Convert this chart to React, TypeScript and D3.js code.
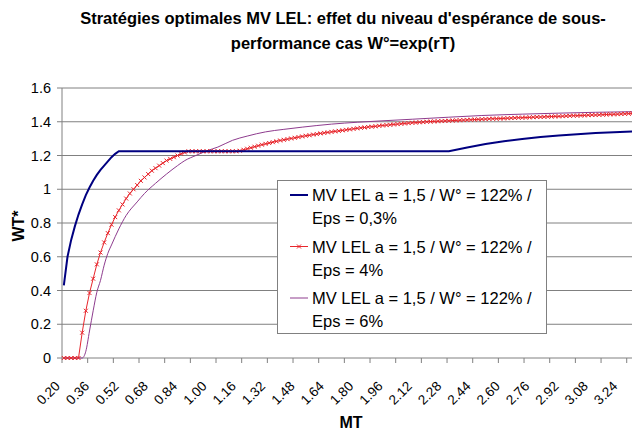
import React from "react";
import * as d3 from "d3";

// x categories: MT from 0.20 by 0.02
const mtCats = d3.range(157).map((i) => +(0.2 + 0.02 * i).toFixed(2));
const tickLabels = ["0.20", "0.36", "0.52", "0.68", "0.84", "1.00", "1.16", "1.32", "1.48", "1.64", "1.80", "1.96", "2.12", "2.28", "2.44", "2.60", "2.76", "2.92", "3.08", "3.24"];
const yTicks = [0, 0.2, 0.4, 0.6, 0.8, 1, 1.2, 1.4, 1.6];

// Eps = 0,3%
const blueMT = [0.2, 0.22, 0.24, 0.26, 0.28, 0.3, 0.32, 0.34, 0.36, 0.38, 0.4, 0.42, 0.44, 0.46, 0.48, 0.5, 2.3, 2.4, 2.5, 2.6, 2.7, 2.8, 2.9, 3.0, 3.1, 3.2, 3.32];
const blueVals = [0.43, 0.6, 0.7, 0.78, 0.85, 0.91, 0.965, 1.01, 1.05, 1.085, 1.115, 1.14, 1.165, 1.19, 1.21, 1.225, 1.225, 1.248, 1.268, 1.285, 1.298, 1.31, 1.318, 1.326, 1.333, 1.338, 1.344];

// Eps = 4% (one value per category)
const redVals = [
  0, 0, 0, 0, 0, 0.15, 0.28, 0.385, 0.47, 0.555, 0.625, 0.685, 0.74, 0.79, 0.835, 0.875, 0.91,
  0.945, 0.975, 1.0, 1.025, 1.05, 1.07, 1.09, 1.11, 1.125, 1.14, 1.155, 1.17, 1.18, 1.19, 1.2, 1.21, 1.218,
  1.225, 1.225, 1.225, 1.225, 1.225, 1.225, 1.225, 1.225, 1.225, 1.225, 1.225, 1.225, 1.225, 1.225,
  1.228, 1.234, 1.24, 1.246, 1.252, 1.258, 1.264, 1.269, 1.274, 1.279, 1.284, 1.289, 1.293, 1.297,
  1.301, 1.305, 1.309, 1.313, 1.317, 1.32, 1.324, 1.327, 1.331, 1.334, 1.337, 1.34, 1.343, 1.346,
  1.349, 1.352, 1.355, 1.358, 1.361, 1.364, 1.366, 1.369, 1.371, 1.373, 1.376, 1.378, 1.38, 1.382,
  1.384, 1.386, 1.388, 1.39, 1.392, 1.394, 1.395, 1.397, 1.398, 1.4, 1.401, 1.402, 1.403, 1.404,
  1.405, 1.406, 1.407, 1.408, 1.409, 1.41, 1.411, 1.412, 1.413, 1.414, 1.415, 1.416, 1.417, 1.418,
  1.418, 1.419, 1.42, 1.421, 1.422, 1.423, 1.424, 1.424, 1.425, 1.426, 1.427, 1.428, 1.428, 1.429,
  1.43, 1.431, 1.432, 1.432, 1.433, 1.434, 1.435, 1.436, 1.436, 1.437, 1.438, 1.439, 1.44, 1.44,
  1.441, 1.442, 1.443, 1.444, 1.444, 1.445, 1.446, 1.447, 1.448, 1.449, 1.45,
];

// Eps = 6%
const purpleMT = [0.2, 0.3, 0.32, 0.34, 0.36, 0.38, 0.4, 0.42, 0.44, 0.46, 0.5, 0.54, 0.6, 0.64, 0.7, 0.76, 0.82, 0.86, 0.92, 0.98, 1.04, 1.12, 1.2, 1.3, 1.4, 1.5, 1.66, 1.8, 1.93, 2.1, 2.3, 2.48, 2.7, 2.9, 3.1, 3.32];
const purpleVals = [0, 0, 0.04, 0.16, 0.28, 0.39, 0.46, 0.55, 0.62, 0.67, 0.765, 0.845, 0.925, 0.975, 1.035, 1.09, 1.14, 1.17, 1.2, 1.228, 1.25, 1.29, 1.315, 1.34, 1.355, 1.368, 1.386, 1.397, 1.405, 1.415, 1.427, 1.437, 1.445, 1.451, 1.456, 1.46];

const legendItems = [
  { color: "#000080", width: 2, marker: false, l1: "MV LEL a = 1,5 / W° = 122% /", l2: "Eps = 0,3%" },
  { color: "#e8262c", width: 1, marker: true, l1: "MV LEL a = 1,5 / W° = 122% /", l2: "Eps = 4%" },
  { color: "#8e3c8e", width: 1, marker: false, l1: "MV LEL a = 1,5 / W° = 122% /", l2: "Eps = 6%" },
];

const font = "'Liberation Sans', Arial, sans-serif";

export default function App() {
  const W = 632;
  const H = 433;
  const left = 62;
  const top = 88;
  const bottom = 358;
  const step = 3.667; // px per category

  const x = d3
    .scaleLinear()
    .domain([0.19, 0.19 + 157 * 0.02])
    .range([left, left + 157 * step]);
  const y = d3.scaleLinear().domain([0, 1.6]).range([bottom, top]);

  const line = d3
    .line<[number, number]>()
    .x((d) => x(d[0]))
    .y((d) => y(d[1]));

  const blueLine = line(blueMT.map((m, i) => [m, blueVals[i]]));
  const redPts: [number, number][] = mtCats.map((m, i) => [m, redVals[i]]);
  const redLine = line(redPts);
  const purpleLine = line.curve(d3.curveMonotoneX)(purpleMT.map((m, i) => [m, purpleVals[i]]));

  const xTicks = d3.range(23).map((k) => 0.19 + 0.14 * k);
  const cross = (px: number, py: number, s: number) =>
    `M${px - s},${py - s}L${px + s},${py + s}M${px - s},${py + s}L${px + s},${py - s}`;

  return (
    <svg width={W} height={H} style={{ position: "absolute", left: 0, top: 0, background: "#fff" }} fontFamily={font}>
      <text x={343} y={24} textAnchor="middle" fontSize={16.5} fontWeight="bold">
        Stratégies optimales MV LEL: effet du niveau d'espérance de sous-
      </text>
      <text x={343} y={49} textAnchor="middle" fontSize={16.5} fontWeight="bold">
        performance cas W°=exp(rT)
      </text>

      {/* grid */}
      {yTicks.map((t) => (
        <g key={t}>
          <line x1={left} x2={W} y1={y(t)} y2={y(t)} stroke="#808080" strokeWidth={1} />
          <line x1={left - 5} x2={left} y1={y(t)} y2={y(t)} stroke="#808080" />
          <text x={51} y={y(t)} dy="0.35em" textAnchor="end" fontSize={14.5}>
            {d3.format("~g")(t)}
          </text>
        </g>
      ))}
      <line x1={left} x2={left} y1={top} y2={bottom} stroke="#808080" />
      {xTicks.map((t, i) => (
        <line key={i} x1={x(t)} x2={x(t)} y1={bottom} y2={bottom + 5} stroke="#808080" />
      ))}
      {tickLabels.map((lab) => {
        const px = x(+lab) - 3;
        const py = 387;
        return (
          <text key={lab} x={px} y={py} textAnchor="end" fontSize={13.5} transform={`rotate(-45 ${px} ${py})`}>
            {lab}
          </text>
        );
      })}

      <text x={351} y={428} textAnchor="middle" fontSize={16} fontWeight="bold">MT</text>
      <text x={0} y={0} textAnchor="middle" fontSize={16} fontWeight="bold" transform="translate(24 226) rotate(-90)">
        WT*
      </text>

      {/* series */}
      <path d={purpleLine || ""} fill="none" stroke="#8e3c8e" strokeWidth={1} />
      <path d={redLine || ""} fill="none" stroke="#e8262c" strokeWidth={1} />
      <path
        d={redPts.map((p) => cross(x(p[0]), y(p[1]), 2)).join("")}
        fill="none"
        stroke="#e8262c"
        strokeWidth={1}
      />
      <path d={blueLine || ""} fill="none" stroke="#000080" strokeWidth={2} />

      {/* legend */}
      <rect x={277.5} y={180.5} width={269} height={153} fill="#fff" stroke="#808080" />
      {legendItems.map((it, i) => {
        const cy = 195 + i * 51.5;
        return (
          <g key={i}>
            <line x1={290} x2={308} y1={cy} y2={cy} stroke={it.color} strokeWidth={it.width} />
            {it.marker && <path d={cross(299, cy, 2)} stroke={it.color} fill="none" />}
            <text x={312} y={cy + 6} fontSize={16.5}>{it.l1}</text>
            <text x={312} y={cy + 29} fontSize={16.5}>{it.l2}</text>
          </g>
        );
      })}
    </svg>
  );
}
